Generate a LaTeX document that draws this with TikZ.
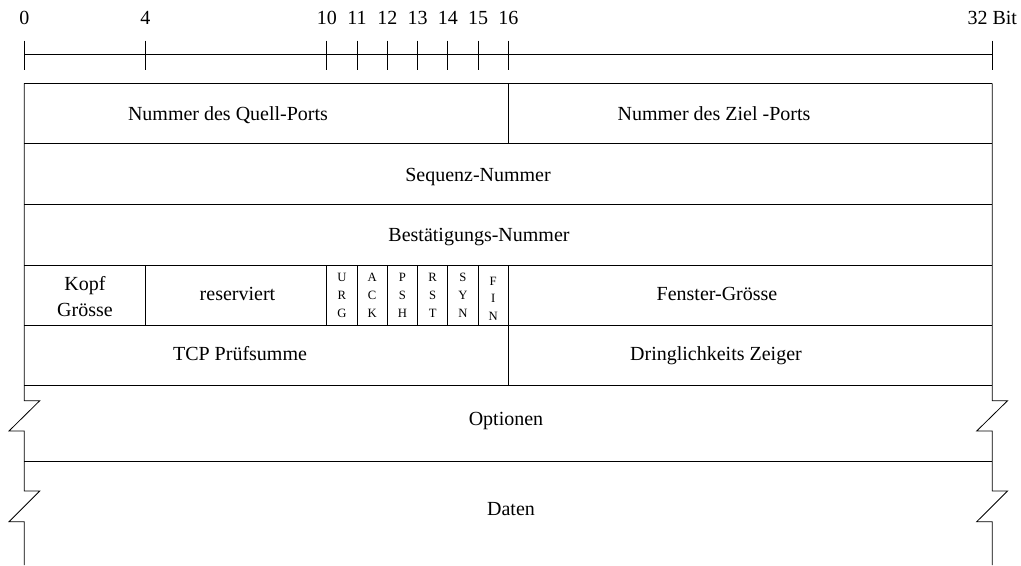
\documentclass[tikz,border=0pt]{standalone}
\usepackage{fontspec}
\setmainfont{Liberation Serif}
\begin{document}
\begin{tikzpicture}[x=0.75pt,y=-0.75pt,
  rule/.style={line width=0.6pt,black},
  lbl/.style={anchor=base,inner sep=0pt,font=\fontsize{15}{18}\selectfont},
  flag/.style={anchor=base,inner sep=0pt,font=\fontsize{9.5}{11}\selectfont}]
\useasboundingbox (0,0) rectangle (1021,565);
\def\B#1{{24.25+30.25*(#1)}}
% scale
\draw[rule] (\B{0},54) -- (\B{32},54);
\foreach \b in {0,4,10,11,12,13,14,15,16,32}
  \draw[rule] (\B{\b},40.6) -- (\B{\b},70);
\foreach \b in {0,4,10,11,12,13,14,15,16}
  \node[lbl] (s\b) at (\B{\b},24) {\b};
\node[lbl] (s32) at (\B{32},24) {32 Bit};
% frame
\draw[rule] (\B{0},83.3) -- (\B{32},83.3);
\foreach \y in {143.3,204.3,265,325,385.5,461}
  \draw[rule] (\B{0},\y) -- (\B{32},\y);
\draw[rule] (\B{0},83.3) -- (\B{0},400.7) -- ++(15.5,0) -- (9,431) -- (\B{0},431)
  -- (\B{0},491) -- ++(15.5,0) -- (9,521.7) -- (\B{0},521.7) -- (\B{0},565);
\draw[rule] (\B{32},83.3) -- (\B{32},400.7) -- ++(15.3,0) -- (976.7,431) -- (\B{32},431)
  -- (\B{32},491) -- ++(15.3,0) -- (976.7,521.7) -- (\B{32},521.7) -- (\B{32},565);
% inner verticals
\draw[rule] (\B{16},83.3) -- (\B{16},143.3);
\foreach \b in {4,10,11,12,13,14,15,16}
  \draw[rule] (\B{\b},265) -- (\B{\b},325);
\draw[rule] (\B{16},325) -- (\B{16},385.5);
% texts
\node[lbl] (quell) at (228,120.7) {Nummer des Quell-Ports};
\node[lbl] (ziel) at (714,120.7) {Nummer des Ziel -Ports};
\node[lbl] (seq) at (478,181.7) {Sequenz-Nummer};
\node[lbl] (ack) at (479,241.7) {Bestätigungs-Nummer};
\node[lbl] (kopf) at (85,290) {Kopf};
\node[lbl] (kopf2) at (85,316.7) {Grösse};
\node[lbl] (res) at (237.5,300.7) {reserviert};
\node[lbl] (fen) at (717,300.7) {Fenster-Grösse};
\node[lbl] (pruef) at (240,360) {TCP Prüfsumme};
\node[lbl] (dring) at (716,360) {Dringlichkeits Zeiger};
\node[lbl] (opt) at (506,425) {Optionen};
\node[lbl] (daten) at (511,515.7) {Daten};
% flags
\foreach \b/\a/\c/\d in {10/U/R/G,11/A/C/K,12/P/S/H,13/R/S/T,14/S/Y/N} {
  \node[flag] (f\b a) at (\B{\b+0.5},281.7) {\a};
  \node[flag] (f\b b) at (\B{\b+0.5},299.3) {\c};
  \node[flag] (f\b c) at (\B{\b+0.5},317) {\d};
}
\node[flag] (f15a) at (\B{15.5},285) {F};
\node[flag] (f15b) at (\B{15.5},302.5) {I};
\node[flag] (f15c) at (\B{15.5},320) {N};
\end{tikzpicture}
\end{document}
